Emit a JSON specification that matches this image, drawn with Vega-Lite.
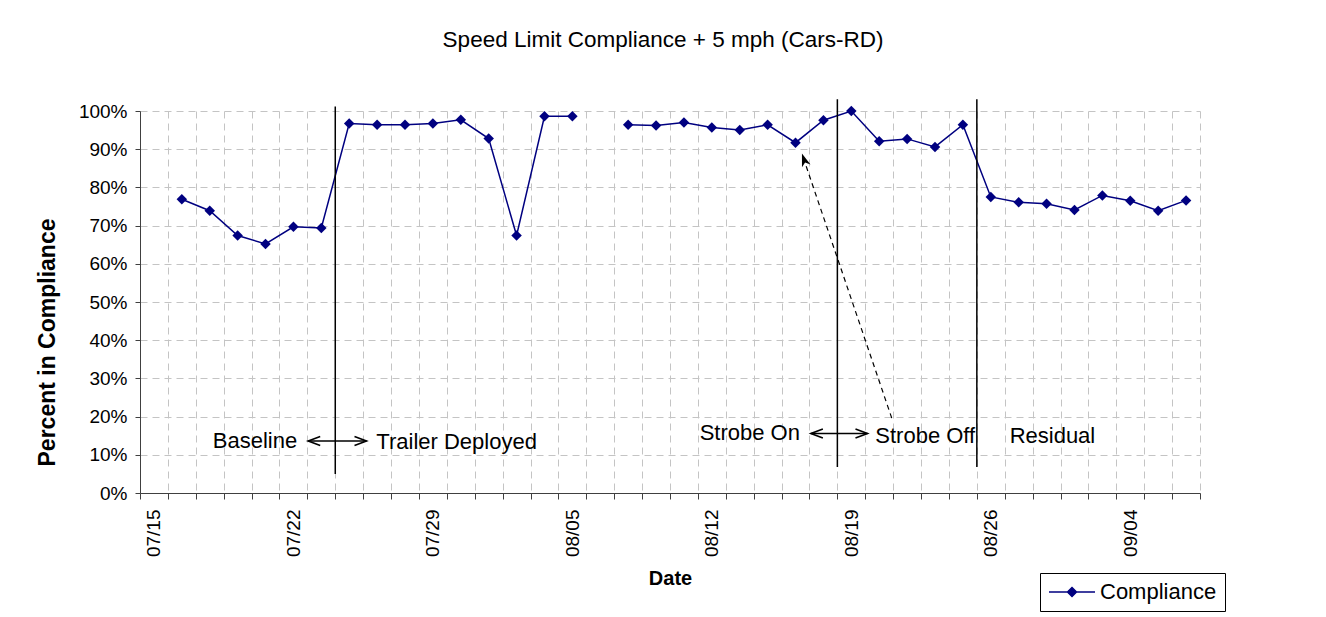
{
  "$schema": "https://vega.github.io/schema/vega-lite/v6.json",
  "width": 1060,
  "height": 382,
  "autosize": {"type": "none"},
  "padding": {"left": 140, "top": 111, "right": 126, "bottom": 124},
  "background": "white",
  "title": {
    "text": "Speed Limit Compliance + 5 mph (Cars-RD)",
    "fontSize": 22.5,
    "font": "Liberation Sans",
    "fontWeight": "normal",
    "color": "black",
    "anchor": "middle",
    "dx": -7,
    "offset": 47
  },
  "config": {
    "font": "Liberation Sans",
    "view": {"stroke": null},
    "axisY": {
      "titleFontSize": 23,
      "titleFontWeight": "bold",
      "titleColor": "black",
      "titleAngle": 270,
      "titleX": -93,
      "titleY": 231,
      "titleBaseline": "middle",
      "titleAlign": "center",
      "labelFontSize": 19,
      "labelColor": "black",
      "labelPadding": 8,
      "tickSize": 5,
      "tickColor": "#404040",
      "domainColor": "#404040",
      "grid": true,
      "gridColor": "#c4c4c4",
      "gridDash": [7, 5]
    }
  },
  "datasets": {
    "compliance": [
      {"date": "07/16", "compliance": 0.769},
      {"date": "07/17", "compliance": 0.739},
      {"date": "07/18", "compliance": 0.674},
      {"date": "07/19", "compliance": 0.652},
      {"date": "07/22", "compliance": 0.697},
      {"date": "07/23", "compliance": 0.694},
      {"date": "07/24", "compliance": 0.967},
      {"date": "07/25", "compliance": 0.964},
      {"date": "07/26", "compliance": 0.964},
      {"date": "07/29", "compliance": 0.967},
      {"date": "07/30", "compliance": 0.977},
      {"date": "07/31", "compliance": 0.928},
      {"date": "08/01", "compliance": 0.674},
      {"date": "08/02", "compliance": 0.986},
      {"date": "08/05", "compliance": 0.986},
      {"date": "08/06", "compliance": null},
      {"date": "08/07", "compliance": 0.964},
      {"date": "08/08", "compliance": 0.962},
      {"date": "08/09", "compliance": 0.970},
      {"date": "08/12", "compliance": 0.957},
      {"date": "08/13", "compliance": 0.950},
      {"date": "08/14", "compliance": 0.964},
      {"date": "08/15", "compliance": 0.917},
      {"date": "08/16", "compliance": 0.976},
      {"date": "08/19", "compliance": 1.000},
      {"date": "08/20", "compliance": 0.921},
      {"date": "08/21", "compliance": 0.927},
      {"date": "08/22", "compliance": 0.906},
      {"date": "08/23", "compliance": 0.964},
      {"date": "08/26", "compliance": 0.775},
      {"date": "08/27", "compliance": 0.761},
      {"date": "08/28", "compliance": 0.757},
      {"date": "08/29", "compliance": 0.741},
      {"date": "08/30", "compliance": 0.779},
      {"date": "09/04", "compliance": 0.765},
      {"date": "09/05", "compliance": 0.739},
      {"date": "09/06", "compliance": 0.766}
    ],
    "phaseLines": [
      {"pos": 7, "top": 1.012, "bottom": 0.05},
      {"pos": 25, "top": 1.031, "bottom": 0.068},
      {"pos": 30, "top": 1.031, "bottom": 0.068}
    ],
    "phaseLabels": [
      {"label": "Baseline", "pos": 4.12, "level": 0.136},
      {"label": "Trailer Deployed", "pos": 11.35, "level": 0.133},
      {"label": "Strobe On", "pos": 21.86, "level": 0.156},
      {"label": "Strobe Off", "pos": 28.15, "level": 0.15},
      {"label": "Residual", "pos": 32.71, "level": 0.15}
    ],
    "arrows": [
      {"from": 6.03, "to": 8.12, "level": 0.136},
      {"from": 24.05, "to": 26.08, "level": 0.156}
    ],
    "pointer": [
      {"x1": 26.95, "y1": 0.196, "x2": 23.87, "y2": 0.858, "tipx": 23.73, "tipy": 0.889}
    ]
  },
  "layer": [
    {
      "data": {"name": "compliance"},
      "layer": [
        {
          "mark": {"type": "line", "strokeWidth": 1.5, "invalid": "break-paths-show-domains"},
          "encoding": {
            "x": {
              "field": "date",
              "type": "ordinal",
              "scale": {
                "type": "band",
                "paddingInner": 0,
                "paddingOuter": 0,
                "domain": ["07/15","07/16","07/17","07/18","07/19","07/22","07/23","07/24","07/25","07/26","07/29","07/30","07/31","08/01","08/02","08/05","08/06","08/07","08/08","08/09","08/12","08/13","08/14","08/15","08/16","08/19","08/20","08/21","08/22","08/23","08/26","08/27","08/28","08/29","08/30","09/04","09/05","09/06"]
              },
              "axis": {
                "title": "Date",
                "titleFontSize": 20,
                "titleFontWeight": "bold",
                "titleColor": "black",
                "titlePadding": 12,
                "labelAngle": 270,
                "labelFontSize": 19,
                "labelColor": "black",
                "labelPadding": 10,
                "labelOverlap": false,
                "labelExpr": "indexof(['07/15','07/22','07/29','08/05','08/12','08/19','08/26','09/04'], datum.value) >= 0 ? datum.label : ''",
                "tickBand": "extent",
                "tickSize": 6,
                "tickColor": "#404040",
                "domainColor": "#404040",
                "grid": true,
                "gridColor": "#c4c4c4",
                "gridDash": [7, 5]
              }
            },
            "y": {
              "field": "compliance",
              "type": "quantitative",
              "title": "Percent in Compliance",
              "scale": {"domain": [0, 1], "nice": false},
              "axis": {"values": [0, 0.1, 0.2, 0.3, 0.4, 0.5, 0.6, 0.7, 0.8, 0.9, 1], "format": ".0%", "labelOverlap": false}
            },
            "color": {
              "datum": "Compliance",
              "type": "nominal",
              "scale": {"range": ["#000080"]},
              "legend": {
                "title": null,
                "orient": "none",
                "legendX": 900,
                "legendY": 462,
                "padding": 8,
                "strokeColor": "black",
                "fillColor": "white",
                "labelFontSize": 22,
                "labelFont": "Liberation Sans",
                "labelColor": "black",
                "labelOffset": 30,
                "symbolType": "M-1.667,0H6M2.167,-0.75L2.917,0L2.167,0.75L1.417,0Z",
                "symbolSize": 144,
                "symbolStrokeWidth": 1.5,
                "symbolFillColor": "#000080",
                "symbolStrokeColor": "#000080",
                "encode": {
                  "symbols": {
                    "update": {
                      "fill": {"value": "#000080"},
                      "stroke": {"value": "#000080"},
                      "strokeWidth": {"value": 1.5},
                      "shape": {"value": "M-1.667,0H6M2.167,-0.75L2.917,0L2.167,0.75L1.417,0Z"}
                    }
                  }
                }
              }
            }
          }
        },
        {
          "mark": {"type": "point", "shape": "diamond", "filled": true, "size": 110, "opacity": 1},
          "encoding": {
            "x": {"field": "date", "type": "ordinal", "scale": {"type": "band"}},
            "y": {"field": "compliance", "type": "quantitative", "title": "Percent in Compliance", "axis": {"values": [0, 0.1, 0.2, 0.3, 0.4, 0.5, 0.6, 0.7, 0.8, 0.9, 1], "format": ".0%", "labelOverlap": false}},
            "color": {"datum": "Compliance", "type": "nominal"}
          }
        }
      ]
    },
    {
      "layer": [
        {
          "data": {"name": "phaseLines"},
          "mark": {"type": "rule", "color": "black", "strokeWidth": 1.5},
          "encoding": {
            "x": {"field": "pos", "type": "quantitative", "scale": {"domain": [0, 38], "nice": false, "zero": false}, "axis": null},
            "y": {"field": "top", "type": "quantitative", "title": "Percent in Compliance", "axis": {"values": [0, 0.1, 0.2, 0.3, 0.4, 0.5, 0.6, 0.7, 0.8, 0.9, 1], "format": ".0%", "labelOverlap": false}},
            "y2": {"field": "bottom"}
          }
        },
        {
          "data": {"name": "phaseLabels"},
          "mark": {"type": "text", "fontSize": 22, "font": "Liberation Sans", "align": "center", "baseline": "middle", "color": "black"},
          "encoding": {
            "x": {"field": "pos", "type": "quantitative", "axis": null},
            "y": {"field": "level", "type": "quantitative", "title": "Percent in Compliance", "axis": {"values": [0, 0.1, 0.2, 0.3, 0.4, 0.5, 0.6, 0.7, 0.8, 0.9, 1], "format": ".0%", "labelOverlap": false}},
            "text": {"field": "label"}
          }
        },
        {
          "data": {"name": "arrows"},
          "mark": {"type": "rule", "color": "black", "strokeWidth": 1.5},
          "encoding": {
            "x": {"field": "from", "type": "quantitative", "axis": null},
            "x2": {"field": "to"},
            "y": {"field": "level", "type": "quantitative", "title": "Percent in Compliance", "axis": {"values": [0, 0.1, 0.2, 0.3, 0.4, 0.5, 0.6, 0.7, 0.8, 0.9, 1], "format": ".0%", "labelOverlap": false}}
          }
        },
        {
          "data": {"name": "arrows"},
          "mark": {"type": "point", "shape": "M2,-0.75L0,0L2,0.75", "size": 144, "filled": false, "color": "black", "strokeWidth": 1.6, "opacity": 1},
          "encoding": {
            "x": {"field": "from", "type": "quantitative", "axis": null},
            "y": {"field": "level", "type": "quantitative", "title": "Percent in Compliance", "axis": {"values": [0, 0.1, 0.2, 0.3, 0.4, 0.5, 0.6, 0.7, 0.8, 0.9, 1], "format": ".0%", "labelOverlap": false}}
          }
        },
        {
          "data": {"name": "arrows"},
          "mark": {"type": "point", "shape": "M-2,-0.75L0,0L-2,0.75", "size": 144, "filled": false, "color": "black", "strokeWidth": 1.6, "opacity": 1},
          "encoding": {
            "x": {"field": "to", "type": "quantitative", "axis": null},
            "y": {"field": "level", "type": "quantitative", "title": "Percent in Compliance", "axis": {"values": [0, 0.1, 0.2, 0.3, 0.4, 0.5, 0.6, 0.7, 0.8, 0.9, 1], "format": ".0%", "labelOverlap": false}}
          }
        },
        {
          "data": {"name": "pointer"},
          "mark": {"type": "rule", "color": "black", "strokeWidth": 1.2, "strokeDash": [5, 4]},
          "encoding": {
            "x": {"field": "x1", "type": "quantitative", "axis": null},
            "x2": {"field": "x2"},
            "y": {"field": "y1", "type": "quantitative", "title": "Percent in Compliance", "axis": {"values": [0, 0.1, 0.2, 0.3, 0.4, 0.5, 0.6, 0.7, 0.8, 0.9, 1], "format": ".0%", "labelOverlap": false}},
            "y2": {"field": "y2"}
          }
        },
        {
          "data": {"name": "pointer"},
          "mark": {"type": "point", "shape": "M0,0L-0.75,2.2L0,1.6L0.75,2.2Z", "size": 144, "filled": true, "color": "black", "angle": 341, "opacity": 1},
          "encoding": {
            "x": {"field": "tipx", "type": "quantitative", "axis": null},
            "y": {"field": "tipy", "type": "quantitative", "title": "Percent in Compliance", "axis": {"values": [0, 0.1, 0.2, 0.3, 0.4, 0.5, 0.6, 0.7, 0.8, 0.9, 1], "format": ".0%", "labelOverlap": false}}
          }
        }
      ]
    }
  ],
  "resolve": {"scale": {"x": "independent"}}
}
